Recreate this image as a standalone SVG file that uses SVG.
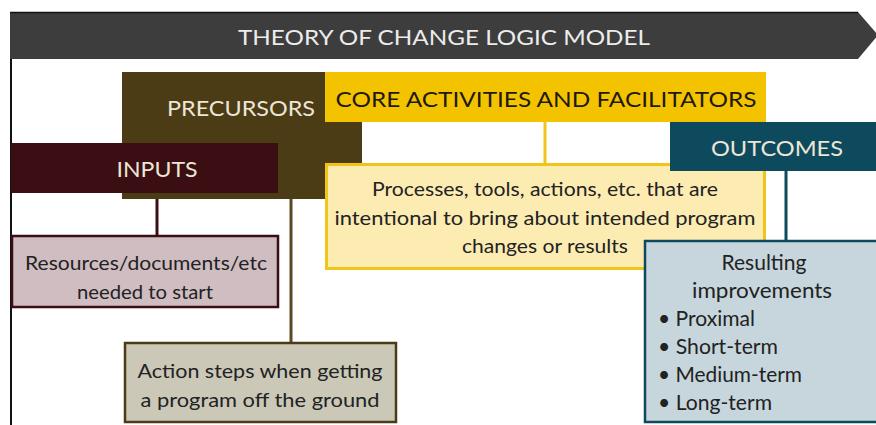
<svg xmlns="http://www.w3.org/2000/svg" width="876" height="425" viewBox="0 0 876 425">
<style>
text{font-family:Lato,"Open Sans","Liberation Sans",sans-serif;text-anchor:middle;dominant-baseline:central}
.hd{font-size:21px;fill:#ece6d6}
.bd{font-size:20px;fill:#222}
.rs{font-size:21px;fill:#222}
.con{fill:none;stroke-width:3}
</style>
<rect x="0" y="0" width="876" height="425" fill="#fff"/>
<g id="frame">
<line x1="11" y1="12" x2="11" y2="425" stroke="#111" stroke-width="2"/>
<polygon points="10,12 858,12 878,35 858,59 10,59" fill="#3d3d3d"/>
<line x1="10" y1="12.5" x2="858" y2="12.5" stroke="#111" stroke-width="1.5"/>
<text x="444" y="36" style="font-size:22px;fill:#ececec" textLength="412" lengthAdjust="spacingAndGlyphs">THEORY OF CHANGE LOGIC MODEL</text>
</g>
<g id="connectors">
<line class="con" x1="157" y1="193" x2="157" y2="236" stroke="#3a0e12"/>
<line class="con" x1="291" y1="199" x2="291" y2="343" stroke="#5a4a22"/>
<line class="con" x1="545" y1="122" x2="545" y2="163" stroke="#f2c419"/>
<line class="con" x1="786" y1="171" x2="786" y2="241" stroke="#0e4a5e"/>
</g>
<g id="precursors">
<polygon points="122,72 325,72 325,122 362,122 362,199 122,199" fill="#4b3c16"/>
<text class="hd" x="241" y="107" textLength="148" lengthAdjust="spacingAndGlyphs">PRECURSORS</text>
</g>
<g id="inputs">
<rect x="11" y="143" width="267" height="50" fill="#3a0e12"/>
<text class="hd" x="157" y="168" textLength="81" lengthAdjust="spacingAndGlyphs">INPUTS</text>
</g>
<g id="resources">
<rect x="12" y="236" width="266" height="71" fill="#cfbdc1" stroke="#3a0e12" stroke-width="2.5"/>
<text class="bd" x="146" y="262" textLength="242" lengthAdjust="spacingAndGlyphs">Resources/documents/etc</text>
<text class="bd" x="145" y="291" textLength="136" lengthAdjust="spacingAndGlyphs">needed to start</text>
</g>
<g id="action">
<rect x="125" y="343" width="271" height="79" fill="#cbc8b8" stroke="#4b3c16" stroke-width="2.5"/>
<text class="bd" x="260" y="370" textLength="245" lengthAdjust="spacingAndGlyphs">Action steps when getting</text>
<text class="bd" x="260" y="399" textLength="239" lengthAdjust="spacingAndGlyphs">a program off the ground</text>
</g>
<g id="core">
<rect x="325" y="72" width="441" height="50" fill="#f4c300"/>
<text x="546" y="98" style="font-size:21px;fill:#1e1a10" textLength="421" lengthAdjust="spacingAndGlyphs">CORE ACTIVITIES AND FACILITATORS</text>
</g>
<g id="processes">
<rect x="326.5" y="164.5" width="438" height="104" fill="#fcecb2" stroke="#f0c419" stroke-width="3"/>
<text class="bd" x="545" y="188" textLength="346" lengthAdjust="spacingAndGlyphs">Processes, tools, actions, etc. that are</text>
<text class="bd" x="545" y="217" textLength="421" lengthAdjust="spacingAndGlyphs">intentional to bring about intended program</text>
<text class="bd" x="545" y="245" textLength="166" lengthAdjust="spacingAndGlyphs">changes or results</text>
</g>
<g id="outcomes">
<rect x="670" y="122" width="206" height="49" fill="#0e4a5e"/>
<text class="hd" x="777" y="147" textLength="132" lengthAdjust="spacingAndGlyphs">OUTCOMES</text>
</g>
<g id="resulting">
<rect x="645" y="241" width="233" height="181" fill="#c6d6dc" stroke="#0e4a5e" stroke-width="2.5"/>
<text class="rs" x="764" y="261" textLength="85" lengthAdjust="spacingAndGlyphs">Resulting</text>
<text class="rs" x="762" y="289" textLength="140" lengthAdjust="spacingAndGlyphs">improvements</text>
<text class="rs" x="658" y="317" style="text-anchor:start" textLength="97" lengthAdjust="spacingAndGlyphs">• Proximal</text>
<text class="rs" x="658" y="345" style="text-anchor:start" textLength="120" lengthAdjust="spacingAndGlyphs">• Short-term</text>
<text class="rs" x="658" y="373" style="text-anchor:start" textLength="144" lengthAdjust="spacingAndGlyphs">• Medium-term</text>
<text class="rs" x="658" y="401" style="text-anchor:start" textLength="114" lengthAdjust="spacingAndGlyphs">• Long-term</text>
</g>
</svg>
